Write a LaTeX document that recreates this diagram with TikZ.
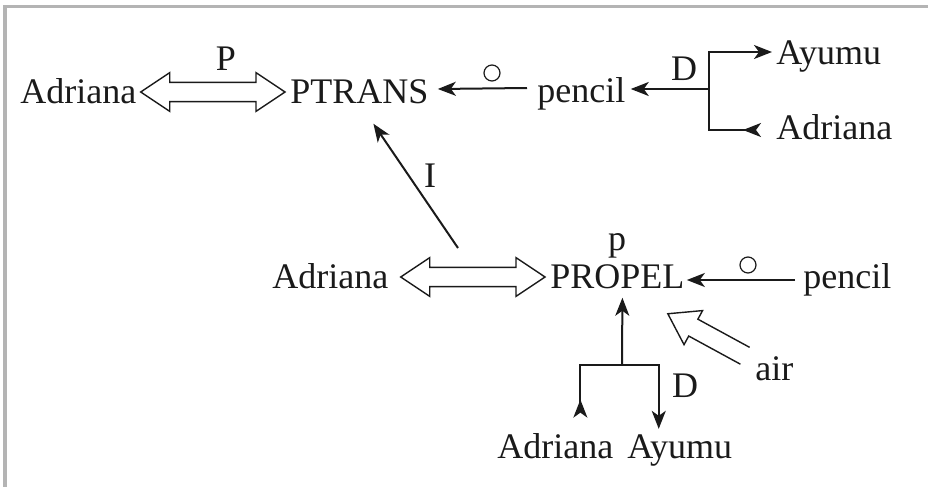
\documentclass[tikz,border=0pt]{standalone}
\usepackage{fontspec}
\setmainfont{Liberation Serif}
\usetikzlibrary{arrows.meta,calc}
\definecolor{framegrey}{HTML}{B4B4B4}
\definecolor{ink}{HTML}{1A1A1A}

% hollow (block) arrow sizes
\def\headL{14.5pt}
\def\headW{9.7pt}
\def\shaftW{4.8pt}

% hollow arrow with a head at both ends: #1 -- #2
\newcommand{\hollowboth}[2]{%
  \draw[hollow] (#1)
    -- ($(#1)!\headL!(#2)!\headW!90:(#2)$)
    -- ($(#1)!\headL!(#2)!\shaftW!90:(#2)$)
    -- ($(#2)!\headL!(#1)!\shaftW!-90:(#1)$)
    -- ($(#2)!\headL!(#1)!\headW!-90:(#1)$)
    -- (#2)
    -- ($(#2)!\headL!(#1)!\headW!90:(#1)$)
    -- ($(#2)!\headL!(#1)!\shaftW!90:(#1)$)
    -- ($(#1)!\headL!(#2)!\shaftW!-90:(#2)$)
    -- ($(#1)!\headL!(#2)!\headW!-90:(#2)$)
    -- cycle;}

% hollow arrow with one head, open tail: from #1 to #2
\newcommand{\hollowone}[2]{%
  \draw[hollow] ($(#1)!\shaftW!-90:(#2)$)
    -- ($(#2)!\headL!(#1)!\shaftW!90:(#1)$)
    -- ($(#2)!\headL!(#1)!\headW!90:(#1)$)
    -- (#2)
    -- ($(#2)!\headL!(#1)!\headW!-90:(#1)$)
    -- ($(#2)!\headL!(#1)!\shaftW!-90:(#1)$)
    -- ($(#1)!\shaftW!90:(#2)$);}

\begin{document}
\begin{tikzpicture}[x=0.5pt, y=-0.5pt,
  word/.style={anchor=base west, inner sep=0pt, text=ink,
    font=\fontsize{18}{20}\selectfont},
  tag/.style={word, anchor=base},
  link/.style={draw=ink, line width=1pt},
  tip/.style={-{Stealth[length=9pt, width=7pt, inset=2.5pt]}},
  backtip/.style={-{Stealth[length=9pt, width=7pt, inset=2.5pt, reversed]}},
  hollow/.style={draw=ink, line width=0.7pt, fill=white, line join=miter},
  obj/.style={circle, draw=ink, line width=0.6pt, minimum size=8pt, inner sep=0pt}]

  \useasboundingbox (0,0) rectangle (928,487);

  % frame (top and left edge only)
  \draw[framegrey, line width=1.6pt] (3,6.5) -- (928,6.5);
  \draw[framegrey, line width=1.6pt] (5,5) -- (5,487);

  % === upper conceptualisation: PTRANS ===
  \node[word] (adrA)    at (20,103)  {Adriana};
  \node[word] (ptrans)  at (290,103) {PTRANS};
  \node[word] (pencilA) at (537,102) {pencil};
  \node[word] (ayumuA)  at (776,64)  {Ayumu};
  \node[word] (adrB)    at (776,140) {Adriana};

  % actor <=> act
  \coordinate (hA1) at ([xshift=2pt, yshift=5.5pt]adrA.base east);
  \coordinate (hA2) at ([xshift=-2.5pt, yshift=5.5pt]ptrans.base west);
  \hollowboth{hA1}{hA2}
  \node[tag] (pA) at (226,70) {P};

  % object
  \draw[link, tip] ([xshift=-5pt, yshift=7pt]pencilA.base west)
    -- ([xshift=4.5pt, yshift=7pt]ptrans.base east);
  \node[obj] (oA) at (492,73) {};

  % direction
  \coordinate (bA) at (709,89);
  \draw[link, tip] (bA) -- ([xshift=2.5pt, yshift=6.5pt]pencilA.base east);
  \draw[link, tip] (bA) |- ([xshift=-2pt, yshift=6pt]ayumuA.base west);
  \draw[link, backtip] (bA) |- ([xshift=-7.5pt, yshift=5pt]adrB.base west);
  \node[tag] (dA) at (684,80) {D};

  % instrument
  \coordinate (iTail) at (458,248);
  \draw[link, tip] (iTail) -- ([xshift=7pt, yshift=-10pt]ptrans.south);
  \node[tag] (iA) at (430,187) {I};

  % === lower conceptualisation: PROPEL ===
  \node[word] (adrM)    at (272,288) {Adriana};
  \node[word] (propel)  at (550,288) {PROPEL};
  \node[word] (pencilB) at (803,288) {pencil};
  \node[word] (air)     at (755,380) {air};
  \node[word] (adrC)    at (497,458) {Adriana};
  \node[word] (ayumuB)  at (627,458) {Ayumu};

  % actor <=> act
  \coordinate (hB1) at ([xshift=6pt, yshift=5.5pt]adrM.base east);
  \coordinate (hB2) at ([xshift=-2.5pt, yshift=5.5pt]propel.base west);
  \hollowboth{hB1}{hB2}
  \node[tag] (pB) at (617,250) {p};

  % object
  \draw[link, tip] ([xshift=-4pt, yshift=4pt]pencilB.base west)
    -- ([xshift=1pt, yshift=4pt]propel.base east);
  \node[obj] (oB) at (748,265) {};

  % air pushes
  \coordinate (airTail) at ([xshift=-5pt]air.north west);
  \coordinate (airTip)  at ([xshift=-8.5pt, yshift=-12.5pt]propel.south east);
  \hollowone{airTail}{airTip}

  % direction
  \coordinate (bB) at (622,365);
  \draw[link, tip] (bB) -- ([xshift=2.5pt, yshift=-4.5pt]propel.south);
  \draw[link, backtip] (bB) -| ([xshift=12.5pt, yshift=7.5pt]adrC.north);
  \draw[link, tip] (bB) -| ([xshift=-10.5pt, yshift=2.5pt]ayumuB.north);
  \node[tag] (dB) at (685,397) {D};

\end{tikzpicture}
\end{document}
